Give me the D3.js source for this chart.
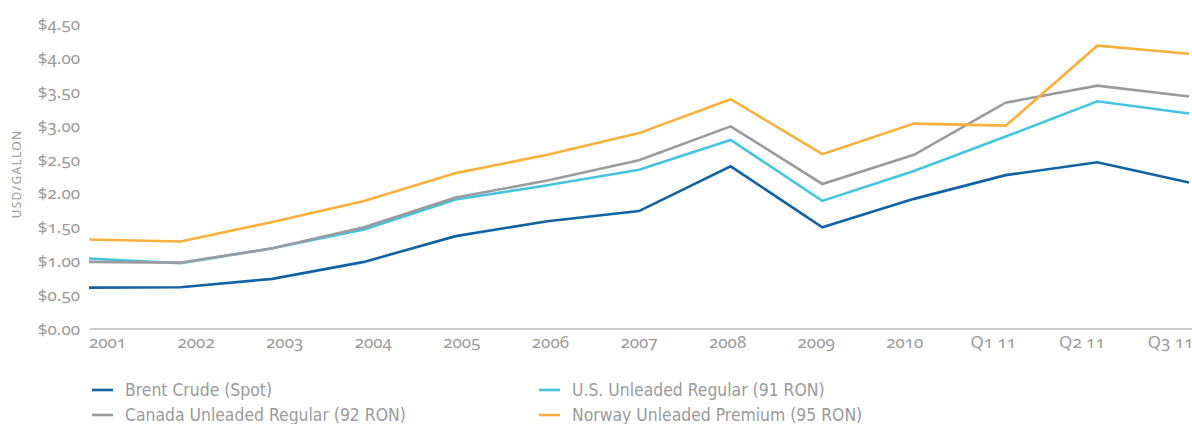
<!DOCTYPE html>
<html>
<head>
<meta charset="utf-8">
<script src="https://cdn.jsdelivr.net/npm/d3@7"></script>
<style>
  body { margin: 0; background: #fff; }
  .tick-label { font-family: "Noto Sans", sans-serif; font-size: 17px; fill: #9a9a9a; font-variant-numeric: oldstyle-nums; font-feature-settings: "onum"; }
  .legend-label { font-family: "Liberation Sans Narrow", "DejaVu Sans Condensed", sans-serif; font-size: 17.4px; fill: #9a9a9a; }
</style>
</head>
<body>
<div id="chart"></div>
<script>
// Categories along the bottom
const periods = ["2001", "2002", "2003", "2004", "2005", "2006", "2007", "2008", "2009", "2010", "Q1 11", "Q2 11", "Q3 11"];

// Series values, USD per gallon
const brent = [0.61, 0.615, 0.74, 0.99, 1.37, 1.59, 1.74, 2.40, 1.50, 1.92, 2.27, 2.46, 2.16];
const usRegular = [1.04, 0.97, 1.19, 1.47, 1.91, 2.12, 2.35, 2.79, 1.89, 2.33, 2.84, 3.36, 3.18];
const canadaRegular = [0.99, 0.98, 1.19, 1.50, 1.94, 2.19, 2.49, 2.99, 2.14, 2.57, 3.34, 3.59, 3.43];
const norwayPremium = [1.32, 1.29, 1.58, 1.89, 2.30, 2.57, 2.89, 3.39, 2.58, 3.03, 3.00, 4.18, 4.06];

// Y tick values
const yTicks = [0, 0.5, 1, 1.5, 2, 2.5, 3, 3.5, 4, 4.5];

const series = [
  { name: "Brent Crude (Spot)", values: brent, color: "#1062a3" },
  { name: "U.S. Unleaded Regular (91 RON)", values: usRegular, color: "#46c4de" },
  { name: "Canada Unleaded Regular (92 RON)", values: canadaRegular, color: "#9b9a9e" },
  { name: "Norway Unleaded Premium (95 RON)", values: norwayPremium, color: "#fbb03b" }
];

const width = 1192, height = 424;

let svg = d3.select("#chart")
  .append("svg")
  .attr("width", width)
  .attr("height", height);

// Scales: data points and the labels under them sit on slightly different spacing
let x = d3.scalePoint().domain(periods).range([89, 1189]);
let xLabel = d3.scalePoint().domain(periods).range([107, 1170]);
let y = d3.scaleLinear().domain([0, 4.5]).range([329, 24]);

// Baseline
svg.append("line")
  .attr("x1", 90).attr("x2", width)
  .attr("y1", y(0)).attr("y2", y(0))
  .attr("stroke", "#9a9a9a")
  .attr("stroke-width", 1.2);

// Y axis labels
let yAxis = d3.axisLeft(y).tickValues(yTicks).tickSize(0).tickPadding(0)
  .tickFormat(d => "$" + d3.format(".2f")(d));
svg.append("g")
  .attr("transform", "translate(80,0)")
  .call(yAxis)
  .call(g => g.select(".domain").remove())
  .selectAll("text")
  .attr("class", "tick-label")
  .attr("font-family", null).attr("font-size", null).attr("fill", null);

// X axis labels
let xAxis = d3.axisBottom(xLabel).tickSize(0).tickPadding(0);
svg.append("g")
  .attr("transform", "translate(0,336)")
  .call(xAxis)
  .call(g => g.select(".domain").remove())
  .selectAll("text")
  .attr("class", "tick-label")
  .attr("font-family", null).attr("font-size", null).attr("fill", null);

// Y axis title
svg.append("text")
  .attr("transform", "translate(21,174) rotate(-90)")
  .attr("text-anchor", "middle")
  .style("font-family", "'Noto Sans', sans-serif")
  .style("font-size", "12px")
  .style("letter-spacing", "1.3px")
  .style("fill", "#9a9a9a")
  .text("USD/GALLON");

// Lines
let line = d3.line()
  .x((d, i) => x(periods[i]))
  .y(d => y(d));

svg.selectAll(".series")
  .data(series)
  .enter().append("path")
  .attr("class", "series")
  .attr("fill", "none")
  .attr("stroke", d => d.color)
  .attr("stroke-width", 2.6)
  .attr("stroke-linejoin", "miter")
  .attr("d", d => line(d.values));

// Legend, two columns
let legend = svg.selectAll(".legend")
  .data(series)
  .enter().append("g")
  .attr("class", "legend")
  .attr("transform", (d, i) => "translate(" + (i % 2 === 0 ? 92 : 539) + "," + (i < 2 ? 390 : 415) + ")");

legend.append("line")
  .attr("x1", 0).attr("x2", 21)
  .attr("stroke", d => d.color)
  .attr("stroke-width", 2.6);

legend.append("text")
  .attr("class", "legend-label")
  .attr("x", 33)
  .attr("dy", "0.35em")
  .text(d => d.name);
</script>
</body>
</html>
